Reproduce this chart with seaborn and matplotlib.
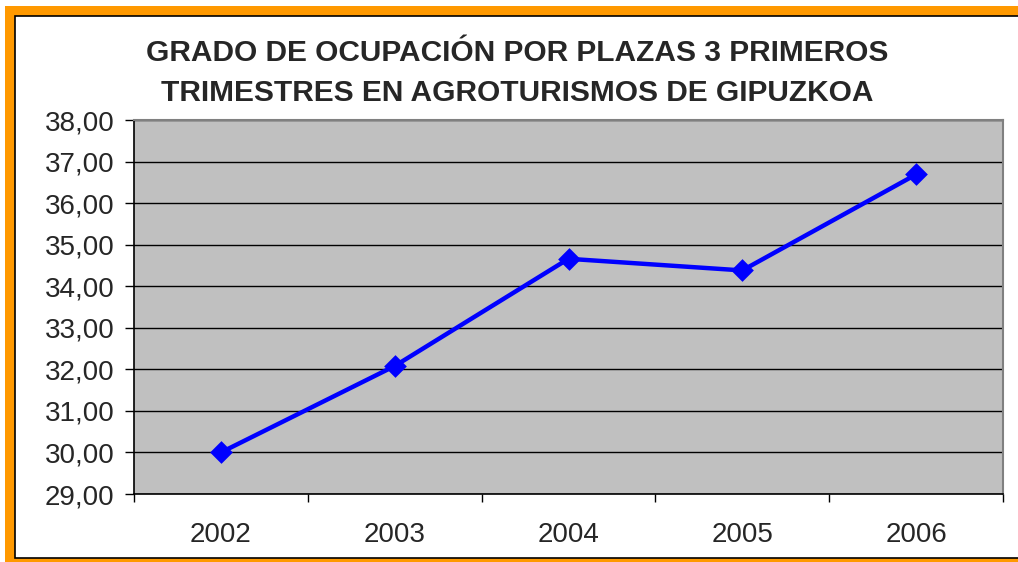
import matplotlib
matplotlib.use("Agg")
import matplotlib.pyplot as plt
from matplotlib.patches import Rectangle
from matplotlib.ticker import FuncFormatter, FixedLocator
import seaborn as sns
import pandas as pd
import numpy as np

# datos
years = ["2002", "2003", "2004", "2005", "2006"]
ocupacion = [30.00, 32.08, 34.66, 34.38, 36.69]

title = ("GRADO DE OCUPACIÓN POR PLAZAS 3 PRIMEROS\n"
         "TRIMESTRES EN AGROTURISMOS DE GIPUZKOA")

sns.set_style("white")
plt.rcParams['font.family'] = ['Liberation Sans', 'DejaVu Sans']

W, H = 1018, 562
fig = plt.figure(figsize=(W / 100, H / 100), dpi=100)
fig.patch.set_facecolor("white")

# marco naranja + borde negro
fig.add_artist(Rectangle((5 / W, -0.1), 1.2, (H - 6) / H + 0.1, transform=fig.transFigure,
                         facecolor="#FF9900", edgecolor="none", zorder=-10))
fig.add_artist(Rectangle((15 / W, (H - 558) / H), 1.2, (558 - 16) / H, transform=fig.transFigure,
                         facecolor="white", edgecolor="black", linewidth=1.2, zorder=-9))

ax = fig.add_axes([134 / W, (H - 494) / H, (1003 - 134) / W, (494 - 120) / H])

df = pd.DataFrame({"year": years, "value": ocupacion})
sns.pointplot(data=df, x="year", y="value", color="#0000FF", markers="D",
              markersize=9.5, linewidth=3.2, ax=ax)

ax.set_facecolor("#C0C0C0")
ax.set_xlim(-0.5, len(years) - 0.5)
ax.set_ylim(29, 38)
ax.set_yticks(np.arange(29, 38.5, 1))
ax.yaxis.set_major_formatter(FuncFormatter(lambda v, p: f"{v:.2f}".replace(".", ",")))
ax.grid(axis="y", color="black", linewidth=1)
ax.set_axisbelow(True)

# ticks del eje x entre categorias
ax.xaxis.set_major_locator(FixedLocator(np.arange(-0.5, len(years), 1)))
ax.xaxis.set_major_formatter(FuncFormatter(lambda v, p: ""))
ax.xaxis.set_minor_locator(FixedLocator(np.arange(len(years))))
ax.set_xticklabels(years, minor=True)
ax.tick_params(axis="x", which="major", direction="out", length=6, width=1, color="black", bottom=True)
ax.tick_params(axis="x", which="minor", length=0, pad=20, labelsize=20, bottom=True)
ax.tick_params(axis="y", direction="out", length=6.5, width=1, color="black", pad=7.5, labelsize=20, left=True)

for side in ["left", "bottom"]:
    ax.spines[side].set_color("black")
    ax.spines[side].set_linewidth(1.2)
for side in ["top", "right"]:
    ax.spines[side].set_color("#808080")
    ax.spines[side].set_linewidth(1.5)

ax.set_xlabel("")
ax.set_ylabel("")

fig.text(517 / W, (H - 73) / H, title, ha="center", va="center", fontsize=21.5,
         fontweight="bold", linespacing=1.55)

fig.savefig("out.png", dpi=100)
